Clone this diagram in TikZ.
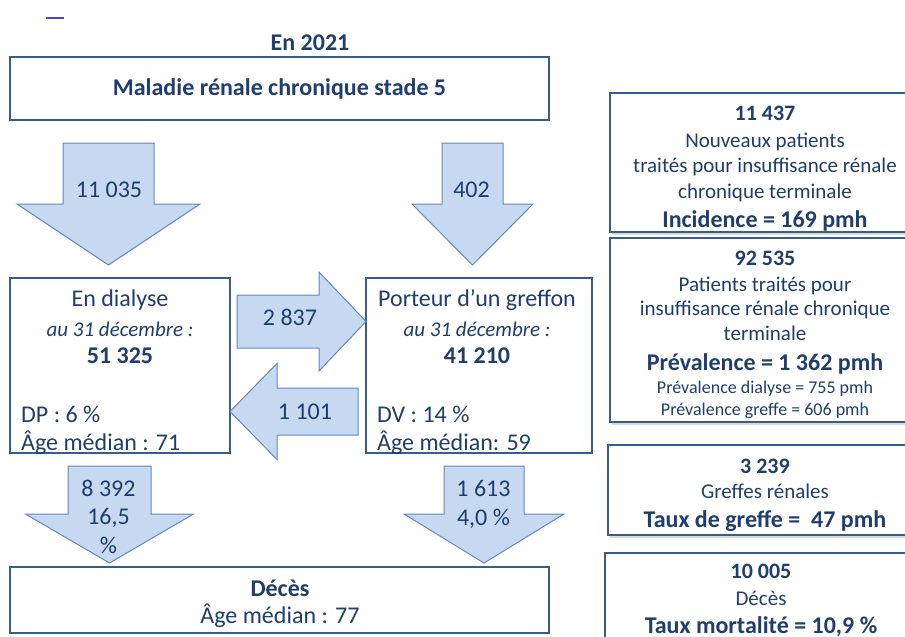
\documentclass[tikz,border=0pt]{standalone}
\usepackage{fontspec}
\setmainfont{Carlito}
\usetikzlibrary{shadows}

\definecolor{textblue}{RGB}{31,62,108}
\definecolor{boxblue}{RGB}{56,93,138}
\definecolor{arrowfill}{RGB}{198,217,241}
\definecolor{arrowline}{RGB}{100,135,190}
\definecolor{markblue}{RGB}{70,70,225}

\newcommand{\fsz}[2]{\fontsize{#1}{#2}\selectfont}
% down block arrow: centre x, top y, shaft half width, head y, head half width, tip y
\newcommand{\flowdown}[6]{%
  \draw[blockarrow] (#1-#3,#2) -- (#1+#3,#2) -- (#1+#3,#4) -- (#1+#5,#4)
    -- (#1,#6) -- (#1-#5,#4) -- (#1-#3,#4) -- cycle;}
% side block arrow: centre y, start x, shaft half width, head x, head half width, tip x
\newcommand{\flowside}[6]{%
  \draw[blockarrow] (#2,#1-#3) -- (#4,#1-#3) -- (#4,#1-#5) -- (#6,#1)
    -- (#4,#1+#5) -- (#4,#1+#3) -- (#2,#1+#3) -- cycle;}

\tikzset{
  box/.style={draw=boxblue, line width=2pt, fill=white, inner sep=0pt},
  sidebox/.style={box, drop shadow={shadow xshift=1.5pt, shadow yshift=-2.5pt, opacity=.3}},
  blockarrow/.style={draw=arrowline, fill=arrowfill, line width=1pt},
  txt/.style={text=textblue, inner sep=0pt, anchor=base, align=center}
}

\begin{document}
\begin{tikzpicture}[x=1pt, y=-1pt]
  \useasboundingbox (0,0) rectangle (905,637);
  \clip (0,0) rectangle (905,637);
  \draw[markblue, line width=2pt] (46,18) -- (64,18);

  %%%%%%%%%%%%%%%%%%%%%%%%%%%%%%%%%%%%%%%%%%%%%%
  %%% Flow chart on the left
  %%%%%%%%%%%%%%%%%%%%%%%%%%%%%%%%%%%%%%%%%%%%%%
  \node[txt, font={\fsz{24}{28}\bfseries}] (year) at (310,50) {En 2021};
  \node[box, minimum width=539, minimum height=63, text=textblue,
        font={\fsz{24}{28}\bfseries}] (stage5) at (279.5,88.5)
        {Maladie rénale chronique stade 5};

  \node[box, minimum width=220, minimum height=175] (dialyse) at (120,365.5) {};
  \node[box, minimum width=226, minimum height=175] (greffon) at (479,365.5) {};
  \node[box, minimum width=539, minimum height=66] (deces) at (279.5,600) {};

  % new patients, from stage 5 down
  \flowdown{108.5}{143}{45.5}{204}{91.5}{265}
  \flowdown{472.5}{143}{30.5}{204}{60.5}{265}
  % dialysis <-> graft
  \flowside{321.5}{237}{26.5}{319}{49.5}{366}
  \flowside{411.5}{358}{23.5}{277}{48}{230}
  % deaths
  \flowdown{109.5}{466}{41.5}{514}{84}{563}
  \flowdown{484}{466}{40}{514}{80}{563}

  % multi-line texts sit on the baseline of their last line
  \node[txt, font={\fsz{24}{29}}] (newdial) at (109,197) {11 035};
  \node[txt, font={\fsz{24}{29}}] (newgreffe) at (471.5,197) {402};
  \node[txt, font={\fsz{24}{29}}] (todial) at (290,325) {2 837};
  \node[txt, font={\fsz{24}{29}}] (togreffe) at (305,419) {1 101};
  \node[txt, font={\fsz{24}{28.5}}] (deaddial) at (108.5,553) {8 392\\16,5\\\%};
  \node[txt, font={\fsz{24}{29}}] (deadgreffe) at (483.5,525) {1 613\\4,0 \%};

  % texts of the boxes
  \node[txt, font={\fsz{24}{28}}] (dialtxt) at (120,363)
    {En dialyse\\[2pt] {\fsz{21}{28}\itshape au 31 décembre :}\\[-1pt] {\bfseries 51 325}};
  \node[txt, anchor=base west, align=left, font={\fsz{24}{28}}] (dialpct) at (21,450)
    {DP : 6 \%\\Âge médian : 71};
  \node[txt, font={\fsz{24}{28}}] (greftxt) at (477,363)
    {Porteur d’un greffon\\[2pt] {\fsz{21}{28}\itshape au 31 décembre :}\\[-1pt] {\bfseries 41 210}};
  \node[txt, anchor=base west, align=left, font={\fsz{24}{28}}] (grefpct) at (377,450)
    {DV : 14 \%\\Âge médian: 59};
  \node[txt, font={\fsz{24}{27}}] (decestxt) at (280,623)
    {{\bfseries Décès}\\Âge médian : 77};

  %%%%%%%%%%%%%%%%%%%%%%%%%%%%%%%%%%%%%%%%%%%%%%
  %%% Key figures on the right
  %%%%%%%%%%%%%%%%%%%%%%%%%%%%%%%%%%%%%%%%%%%%%%
  \node[sidebox, minimum width=310, minimum height=139] (incid) at (765,162.5) {};
  \node[sidebox, minimum width=310, minimum height=184] (preval) at (765,330) {};
  \node[sidebox, minimum width=314, minimum height=90] (taux) at (765,490) {};
  \node[sidebox, minimum width=312, minimum height=107] (mort) at (761,606.5) {};

  \node[txt, font={\fsz{21}{26}}] (incidtxt) at (765,227)
    {{\fsz{22}{26}\bfseries 11 437}\\[1pt] Nouveaux patients\\[-1pt]
     traités pour insuffisance rénale\\ chronique terminale\\[3pt]
     {\fsz{24}{26}\bfseries Incidence = 169 pmh}};
  \node[txt, font={\fsz{21}{25}}] (prevtxt) at (765,415)
    {{\fsz{22}{25}\bfseries 92 535}\\[1pt] Patients traités pour\\[-1pt]
     insuffisance rénale chronique\\ terminale\\[5pt]
     {\fsz{24}{25}\bfseries Prévalence = 1 362 pmh}\\[-2pt]
     {\fsz{18}{25}Prévalence dialyse = 755 pmh}\\[-3pt]
     {\fsz{18}{25}Prévalence greffe = 606 pmh}};
  \node[txt, font={\fsz{21}{25}}] (tauxtxt) at (765,527)
    {{\fsz{22}{25}\bfseries 3 239}\\ Greffes rénales\\[4pt]
     {\fsz{24}{25}\bfseries Taux de greffe =\ \ 47 pmh}};
  \node[txt, font={\fsz{21}{27.5}}] (morttxt) at (761,633)
    {{\fsz{22}{27.5}\bfseries 10 005}\\ Décès\\
     {\fsz{24}{27.5}\bfseries Taux mortalité = 10,9 \%}};
\end{tikzpicture}
\end{document}
